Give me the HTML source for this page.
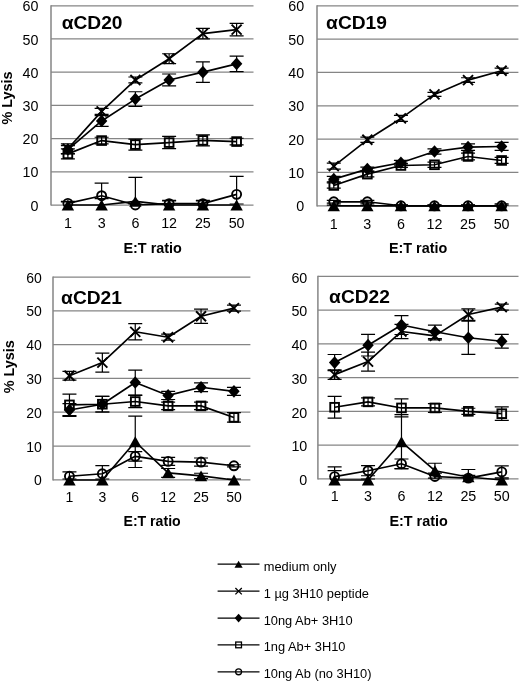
<!DOCTYPE html>
<html lang="en">
<head>
<meta charset="utf-8">
<title>Lysis vs E:T ratio</title>
<style>
html,body{margin:0;padding:0;background:#fff;}
body{width:520px;height:682px;overflow:hidden;}
svg{display:block;will-change:transform;}
</style>
</head>
<body>
<svg width="520" height="682" viewBox="0 0 520 682">
<rect width="520" height="682" fill="#fff"/>
<g>
<path d="M51 205H253.5M51 171.79H253.5M51 138.58H253.5M51 105.38H253.5M51 72.17H253.5M51 38.96H253.5M51 5.75H253.5" stroke="#858585" stroke-width="1.25" fill="none"/>
<path d="M51 5.15V205.6" stroke="#858585" stroke-width="1.5" fill="none"/>
<g font-family='"Liberation Sans", Arial, Helvetica, sans-serif' font-size="14.3" fill="#000" text-anchor="end">
<text x="38.5" y="210.6">0</text>
<text x="38.5" y="177.39">10</text>
<text x="38.5" y="144.18">20</text>
<text x="38.5" y="110.97">30</text>
<text x="38.5" y="77.77">40</text>
<text x="38.5" y="44.56">50</text>
<text x="38.5" y="11.35">60</text>
</g>
<g font-family='"Liberation Sans", Arial, Helvetica, sans-serif' font-size="14.3" fill="#000" text-anchor="middle">
<text x="67.88" y="227.9">1</text>
<text x="101.62" y="227.9">3</text>
<text x="135.38" y="227.9">6</text>
<text x="169.12" y="227.9">12</text>
<text x="202.88" y="227.9">25</text>
<text x="236.62" y="227.9">50</text>
</g>
<text x="152.65" y="252.5" font-family='"Liberation Sans", Arial, Helvetica, sans-serif' font-size="14.4" font-weight="bold" text-anchor="middle" fill="#000">E:T ratio</text>
<text transform="translate(12.1 98) rotate(-90)" font-family='"Liberation Sans", Arial, Helvetica, sans-serif' font-size="14.4" font-weight="bold" text-anchor="middle" fill="#000">% Lysis</text>
<text x="61.7" y="29.3" font-family='"Liberation Sans", Arial, Helvetica, sans-serif' font-size="19.2" font-weight="bold" fill="#000">αCD20</text>
<path d="M67.88 202.01V205M60.88 202.01H74.88M101.62 198.69V205M94.62 198.69H108.62M135.38 177.44V205M128.38 177.44H142.38M169.12 201.01V205M162.12 201.01H176.12M202.88 201.01V205M195.88 201.01H209.88M236.62 204V205M229.62 204H243.62" stroke="#000" stroke-width="1.2" fill="none"/>
<polyline points="67.88,205 101.62,205 135.38,201.35 169.12,205 202.88,205 236.62,205" fill="none" stroke="#000" stroke-width="1.65" stroke-linejoin="round"/>
<path d="M67.88 199.6L74.08 210.4L61.67 210.4Z" fill="#000"/>
<path d="M101.62 199.6L107.83 210.4L95.42 210.4Z" fill="#000"/>
<path d="M135.38 195.95L141.57 206.75L129.18 206.75Z" fill="#000"/>
<path d="M169.12 199.6L175.32 210.4L162.93 210.4Z" fill="#000"/>
<path d="M202.88 199.6L209.07 210.4L196.68 210.4Z" fill="#000"/>
<path d="M236.62 199.6L242.82 210.4L230.43 210.4Z" fill="#000"/>
<path d="M67.88 143.9V153.86M60.88 143.9H74.88M60.88 153.86H74.88M101.62 108.36V114.34M94.62 108.36H108.62M94.62 114.34H108.62M135.38 76.98V82.96M128.38 76.98H142.38M128.38 82.96H142.38M169.12 53.74V63.7M162.12 53.74H176.12M162.12 63.7H176.12M202.88 28.43V38.86M195.88 28.43H209.88M195.88 38.86H209.88M236.62 23.35V35.97M229.62 23.35H243.62M229.62 35.97H243.62" stroke="#000" stroke-width="1.2" fill="none"/>
<polyline points="67.88,148.88 101.62,111.35 135.38,79.97 169.12,58.72 202.88,33.65 236.62,29.66" fill="none" stroke="#000" stroke-width="1.65" stroke-linejoin="round"/>
<path d="M62.88 143.88L72.88 153.88M62.88 153.88L72.88 143.88" stroke="#000" stroke-width="1.9" fill="none"/>
<path d="M96.62 106.35L106.62 116.35M96.62 116.35L106.62 106.35" stroke="#000" stroke-width="1.9" fill="none"/>
<path d="M130.38 74.97L140.38 84.97M130.38 84.97L140.38 74.97" stroke="#000" stroke-width="1.9" fill="none"/>
<path d="M164.12 53.72L174.12 63.72M164.12 63.72L174.12 53.72" stroke="#000" stroke-width="1.9" fill="none"/>
<path d="M197.88 28.65L207.88 38.65M197.88 38.65L207.88 28.65" stroke="#000" stroke-width="1.9" fill="none"/>
<path d="M231.62 24.66L241.62 34.66M231.62 34.66L241.62 24.66" stroke="#000" stroke-width="1.9" fill="none"/>
<path d="M67.88 145.56V153.53M60.88 145.56H74.88M60.88 153.53H74.88M101.62 115.67V126.3M94.62 115.67H108.62M94.62 126.3H108.62M135.38 91.76V106.37M128.38 91.76H142.38M128.38 106.37H142.38M169.12 73.99V85.95M162.12 73.99H176.12M162.12 85.95H176.12M202.88 61.87V82.46M195.88 61.87H209.88M195.88 82.46H209.88M236.62 56.06V71.67M229.62 56.06H243.62M229.62 71.67H243.62" stroke="#000" stroke-width="1.2" fill="none"/>
<polyline points="67.88,149.54 101.62,120.98 135.38,99.07 169.12,79.97 202.88,72.17 236.62,63.86" fill="none" stroke="#000" stroke-width="1.65" stroke-linejoin="round"/>
<path d="M67.88 143.24L73.58 149.54L67.88 155.84L62.17 149.54Z" fill="#000"/>
<path d="M101.62 114.68L107.33 120.98L101.62 127.28L95.92 120.98Z" fill="#000"/>
<path d="M135.38 92.77L141.07 99.07L135.38 105.37L129.68 99.07Z" fill="#000"/>
<path d="M169.12 73.67L174.82 79.97L169.12 86.27L163.43 79.97Z" fill="#000"/>
<path d="M202.88 65.87L208.57 72.17L202.88 78.47L197.18 72.17Z" fill="#000"/>
<path d="M236.62 57.56L242.32 63.86L236.62 70.16L230.93 63.86Z" fill="#000"/>
<path d="M67.88 148.88V158.84M60.88 148.88H74.88M60.88 158.84H74.88M101.62 137.25V143.9M94.62 137.25H108.62M94.62 143.9H108.62M135.38 139.08V150.04M128.38 139.08H142.38M128.38 150.04H142.38M169.12 136.42V148.71M162.12 136.42H176.12M162.12 148.71H176.12M202.88 134.93V145.89M195.88 134.93H209.88M195.88 145.89H209.88M236.62 138.25V144.89M229.62 138.25H243.62M229.62 144.89H243.62" stroke="#000" stroke-width="1.2" fill="none"/>
<polyline points="67.88,153.86 101.62,140.58 135.38,144.56 169.12,142.57 202.88,140.41 236.62,141.57" fill="none" stroke="#000" stroke-width="1.65" stroke-linejoin="round"/>
<rect x="63.52" y="149.51" width="8.7" height="8.7" fill="none" stroke="#000" stroke-width="1.9"/>
<rect x="97.28" y="136.23" width="8.7" height="8.7" fill="none" stroke="#000" stroke-width="1.9"/>
<rect x="131.03" y="140.21" width="8.7" height="8.7" fill="none" stroke="#000" stroke-width="1.9"/>
<rect x="164.78" y="138.22" width="8.7" height="8.7" fill="none" stroke="#000" stroke-width="1.9"/>
<rect x="198.53" y="136.06" width="8.7" height="8.7" fill="none" stroke="#000" stroke-width="1.9"/>
<rect x="232.28" y="137.22" width="8.7" height="8.7" fill="none" stroke="#000" stroke-width="1.9"/>
<path d="M67.88 201.35V205M60.88 201.35H74.88M101.62 183.08V205M94.62 183.08H108.62M135.38 204V205M128.38 204H142.38M169.12 200.35V205M162.12 200.35H176.12M202.88 200.35V205M195.88 200.35H209.88M236.62 176.44V205M229.62 176.44H243.62" stroke="#000" stroke-width="1.2" fill="none"/>
<polyline points="67.88,203.34 101.62,195.7 135.38,205 169.12,203.67 202.88,203.67 236.62,194.37" fill="none" stroke="#000" stroke-width="1.65" stroke-linejoin="round"/>
<circle cx="67.88" cy="203.34" r="4.5" fill="none" stroke="#000" stroke-width="1.9"/>
<circle cx="101.62" cy="195.7" r="4.5" fill="none" stroke="#000" stroke-width="1.9"/>
<circle cx="135.38" cy="205" r="4.5" fill="none" stroke="#000" stroke-width="1.9"/>
<circle cx="169.12" cy="203.67" r="4.5" fill="none" stroke="#000" stroke-width="1.9"/>
<circle cx="202.88" cy="203.67" r="4.5" fill="none" stroke="#000" stroke-width="1.9"/>
<circle cx="236.62" cy="194.37" r="4.5" fill="none" stroke="#000" stroke-width="1.9"/>
</g>
<g>
<path d="M317 205.8H518.4M317 172.46H518.4M317 139.12H518.4M317 105.78H518.4M317 72.43H518.4M317 39.09H518.4M317 5.75H518.4" stroke="#858585" stroke-width="1.25" fill="none"/>
<path d="M317 5.15V206.4" stroke="#858585" stroke-width="1.5" fill="none"/>
<g font-family='"Liberation Sans", Arial, Helvetica, sans-serif' font-size="14.3" fill="#000" text-anchor="end">
<text x="304.2" y="211.4">0</text>
<text x="304.2" y="178.06">10</text>
<text x="304.2" y="144.72">20</text>
<text x="304.2" y="111.38">30</text>
<text x="304.2" y="78.03">40</text>
<text x="304.2" y="44.69">50</text>
<text x="304.2" y="11.35">60</text>
</g>
<g font-family='"Liberation Sans", Arial, Helvetica, sans-serif' font-size="14.3" fill="#000" text-anchor="middle">
<text x="333.78" y="228.7">1</text>
<text x="367.35" y="228.7">3</text>
<text x="400.92" y="228.7">6</text>
<text x="434.48" y="228.7">12</text>
<text x="468.05" y="228.7">25</text>
<text x="501.62" y="228.7">50</text>
</g>
<text x="418.1" y="252.5" font-family='"Liberation Sans", Arial, Helvetica, sans-serif' font-size="14.4" font-weight="bold" text-anchor="middle" fill="#000">E:T ratio</text>
<text x="326.1" y="29.3" font-family='"Liberation Sans", Arial, Helvetica, sans-serif' font-size="19.2" font-weight="bold" fill="#000">αCD19</text>
<path d="M333.78 205.13V205.8M326.78 205.13H340.78M367.35 205.13V205.8M360.35 205.13H374.35M400.92 205.13V205.8M393.92 205.13H407.92M434.48 205.13V205.8M427.48 205.13H441.48M468.05 205.13V205.8M461.05 205.13H475.05M501.62 205.13V205.8M494.62 205.13H508.62" stroke="#000" stroke-width="1.2" fill="none"/>
<polyline points="333.78,205.8 367.35,205.8 400.92,205.8 434.48,205.8 468.05,205.8 501.62,205.8" fill="none" stroke="#000" stroke-width="1.65" stroke-linejoin="round"/>
<path d="M333.78 200.4L339.98 211.2L327.58 211.2Z" fill="#000"/>
<path d="M367.35 200.4L373.55 211.2L361.15 211.2Z" fill="#000"/>
<path d="M400.92 200.4L407.12 211.2L394.72 211.2Z" fill="#000"/>
<path d="M434.48 200.4L440.68 211.2L428.28 211.2Z" fill="#000"/>
<path d="M468.05 200.4L474.25 211.2L461.85 211.2Z" fill="#000"/>
<path d="M501.62 200.4L507.82 211.2L495.42 211.2Z" fill="#000"/>
<path d="M333.78 163.12V169.12M326.78 163.12H340.78M326.78 169.12H340.78M367.35 137.12V142.45M360.35 137.12H374.35M360.35 142.45H374.35M400.92 115.44V121.45M393.92 115.44H407.92M393.92 121.45H407.92M434.48 92.44V96.44M427.48 92.44H441.48M427.48 96.44H441.48M468.05 77.77V82.44M461.05 77.77H475.05M461.05 82.44H475.05M501.62 68.1V73.43M494.62 68.1H508.62M494.62 73.43H508.62" stroke="#000" stroke-width="1.2" fill="none"/>
<polyline points="333.78,166.12 367.35,139.78 400.92,118.44 434.48,94.44 468.05,80.1 501.62,70.77" fill="none" stroke="#000" stroke-width="1.65" stroke-linejoin="round"/>
<path d="M328.78 161.12L338.78 171.12M328.78 171.12L338.78 161.12" stroke="#000" stroke-width="1.9" fill="none"/>
<path d="M362.35 134.78L372.35 144.78M362.35 144.78L372.35 134.78" stroke="#000" stroke-width="1.9" fill="none"/>
<path d="M395.92 113.44L405.92 123.44M395.92 123.44L405.92 113.44" stroke="#000" stroke-width="1.9" fill="none"/>
<path d="M429.48 89.44L439.48 99.44M429.48 99.44L439.48 89.44" stroke="#000" stroke-width="1.9" fill="none"/>
<path d="M463.05 75.1L473.05 85.1M463.05 85.1L473.05 75.1" stroke="#000" stroke-width="1.9" fill="none"/>
<path d="M496.62 65.77L506.62 75.77M496.62 75.77L506.62 65.77" stroke="#000" stroke-width="1.9" fill="none"/>
<path d="M333.78 176.46V181.79M326.78 176.46H340.78M326.78 181.79H340.78M367.35 167.12V171.12M360.35 167.12H374.35M360.35 171.12H374.35M400.92 160.46V165.12M393.92 160.46H407.92M393.92 165.12H407.92M434.48 148.79V154.12M427.48 148.79H441.48M427.48 154.12H441.48M468.05 143.78V150.45M461.05 143.78H475.05M461.05 150.45H475.05M501.62 142.45V150.45M494.62 142.45H508.62M494.62 150.45H508.62" stroke="#000" stroke-width="1.2" fill="none"/>
<polyline points="333.78,179.13 367.35,169.12 400.92,162.79 434.48,151.45 468.05,147.12 501.62,146.45" fill="none" stroke="#000" stroke-width="1.65" stroke-linejoin="round"/>
<path d="M333.78 172.83L339.48 179.13L333.78 185.43L328.08 179.13Z" fill="#000"/>
<path d="M367.35 162.82L373.05 169.12L367.35 175.42L361.65 169.12Z" fill="#000"/>
<path d="M400.92 156.49L406.62 162.79L400.92 169.09L395.22 162.79Z" fill="#000"/>
<path d="M434.48 145.15L440.18 151.45L434.48 157.75L428.78 151.45Z" fill="#000"/>
<path d="M468.05 140.82L473.75 147.12L468.05 153.42L462.35 147.12Z" fill="#000"/>
<path d="M501.62 140.15L507.32 146.45L501.62 152.75L495.92 146.45Z" fill="#000"/>
<path d="M333.78 182.79V188.13M326.78 182.79H340.78M326.78 188.13H340.78M367.35 171.46V176.79M360.35 171.46H374.35M360.35 176.79H374.35M400.92 163.46V167.46M393.92 163.46H407.92M393.92 167.46H407.92M434.48 162.12V167.46M427.48 162.12H441.48M427.48 167.46H441.48M468.05 153.12V159.79M461.05 153.12H475.05M461.05 159.79H475.05M501.62 157.45V163.46M494.62 157.45H508.62M494.62 163.46H508.62" stroke="#000" stroke-width="1.2" fill="none"/>
<polyline points="333.78,185.46 367.35,174.13 400.92,165.46 434.48,164.79 468.05,156.45 501.62,160.46" fill="none" stroke="#000" stroke-width="1.65" stroke-linejoin="round"/>
<rect x="329.43" y="181.11" width="8.7" height="8.7" fill="none" stroke="#000" stroke-width="1.9"/>
<rect x="363" y="169.78" width="8.7" height="8.7" fill="none" stroke="#000" stroke-width="1.9"/>
<rect x="396.57" y="161.11" width="8.7" height="8.7" fill="none" stroke="#000" stroke-width="1.9"/>
<rect x="430.13" y="160.44" width="8.7" height="8.7" fill="none" stroke="#000" stroke-width="1.9"/>
<rect x="463.7" y="152.1" width="8.7" height="8.7" fill="none" stroke="#000" stroke-width="1.9"/>
<rect x="497.27" y="156.11" width="8.7" height="8.7" fill="none" stroke="#000" stroke-width="1.9"/>
<path d="M333.78 200.47V203.13M326.78 200.47H340.78M326.78 203.13H340.78M367.35 200.47V203.13M360.35 200.47H374.35M360.35 203.13H374.35M400.92 204.8V205.8M393.92 204.8H407.92M434.48 204.8V205.8M427.48 204.8H441.48M468.05 204.8V205.8M461.05 204.8H475.05M501.62 203.8V205.8M494.62 203.8H508.62" stroke="#000" stroke-width="1.2" fill="none"/>
<polyline points="333.78,201.8 367.35,201.8 400.92,205.8 434.48,205.8 468.05,205.8 501.62,205.8" fill="none" stroke="#000" stroke-width="1.65" stroke-linejoin="round"/>
<circle cx="333.78" cy="201.8" r="4.5" fill="none" stroke="#000" stroke-width="1.9"/>
<circle cx="367.35" cy="201.8" r="4.5" fill="none" stroke="#000" stroke-width="1.9"/>
<circle cx="400.92" cy="205.8" r="4.5" fill="none" stroke="#000" stroke-width="1.9"/>
<circle cx="434.48" cy="205.8" r="4.5" fill="none" stroke="#000" stroke-width="1.9"/>
<circle cx="468.05" cy="205.8" r="4.5" fill="none" stroke="#000" stroke-width="1.9"/>
<circle cx="501.62" cy="205.8" r="4.5" fill="none" stroke="#000" stroke-width="1.9"/>
</g>
<g>
<path d="M53 479.8H250.4M53 446H250.4M53 412.2H250.4M53 378.4H250.4M53 344.6H250.4M53 310.8H250.4M53 277H250.4" stroke="#858585" stroke-width="1.25" fill="none"/>
<path d="M53 276.4V480.4" stroke="#858585" stroke-width="1.5" fill="none"/>
<g font-family='"Liberation Sans", Arial, Helvetica, sans-serif' font-size="14.01" fill="#000" text-anchor="end">
<text x="41.8" y="485.4">0</text>
<text x="41.8" y="451.6">10</text>
<text x="41.8" y="417.8">20</text>
<text x="41.8" y="384">30</text>
<text x="41.8" y="350.2">40</text>
<text x="41.8" y="316.4">50</text>
<text x="41.8" y="282.6">60</text>
</g>
<g font-family='"Liberation Sans", Arial, Helvetica, sans-serif' font-size="14.01" fill="#000" text-anchor="middle">
<text x="69.45" y="502">1</text>
<text x="102.35" y="502">3</text>
<text x="135.25" y="502">6</text>
<text x="168.15" y="502">12</text>
<text x="201.05" y="502">25</text>
<text x="233.95" y="502">50</text>
</g>
<text x="152.1" y="525.7" font-family='"Liberation Sans", Arial, Helvetica, sans-serif' font-size="14.11" font-weight="bold" text-anchor="middle" fill="#000">E:T ratio</text>
<text transform="translate(13.6 366.8) rotate(-90)" font-family='"Liberation Sans", Arial, Helvetica, sans-serif' font-size="14.4" font-weight="bold" text-anchor="middle" fill="#000">% Lysis</text>
<text x="61.1" y="304.3" font-family='"Liberation Sans", Arial, Helvetica, sans-serif' font-size="19.2" font-weight="bold" fill="#000">αCD21</text>
<path d="M69.45 478.99V479.8M62.45 478.99H76.45M102.35 478.99V479.8M95.35 478.99H109.35M135.25 416.06V467.48M128.25 416.06H142.25M128.25 467.48H142.25M168.15 468.5V477.29M161.15 468.5H175.15M161.15 477.29H175.15M201.05 473.23V478.65M194.05 473.23H208.05M194.05 478.65H208.05M233.95 478.99V479.8M226.95 478.99H240.95" stroke="#000" stroke-width="1.2" fill="none"/>
<polyline points="69.45,480 102.35,480 135.25,441.77 168.15,472.89 201.05,475.94 233.95,480" fill="none" stroke="#000" stroke-width="1.65" stroke-linejoin="round"/>
<path d="M69.45 474.6L75.65 485.4L63.25 485.4Z" fill="#000"/>
<path d="M102.35 474.6L108.55 485.4L96.15 485.4Z" fill="#000"/>
<path d="M135.25 436.37L141.45 447.17L129.05 447.17Z" fill="#000"/>
<path d="M168.15 467.5L174.35 478.29L161.95 478.29Z" fill="#000"/>
<path d="M201.05 470.54L207.25 481.34L194.85 481.34Z" fill="#000"/>
<path d="M233.95 474.6L240.15 485.4L227.75 485.4Z" fill="#000"/>
<path d="M69.45 371.39V380.19M62.45 371.39H76.45M62.45 380.19H76.45M102.35 353.12V372.07M95.35 353.12H109.35M95.35 372.07H109.35M135.25 323.69V339.93M128.25 323.69H142.25M128.25 339.93H142.25M168.15 334.18V340.27M161.15 334.18H175.15M161.15 340.27H175.15M201.05 309.14V323.35M194.05 309.14H208.05M194.05 323.35H208.05M233.95 305.08V311.17M226.95 305.08H240.95M226.95 311.17H240.95" stroke="#000" stroke-width="1.2" fill="none"/>
<polyline points="69.45,375.79 102.35,362.6 135.25,331.81 168.15,337.22 201.05,316.25 233.95,308.13" fill="none" stroke="#000" stroke-width="1.65" stroke-linejoin="round"/>
<path d="M64.45 370.79L74.45 380.79M64.45 380.79L74.45 370.79" stroke="#000" stroke-width="1.9" fill="none"/>
<path d="M97.35 357.6L107.35 367.6M97.35 367.6L107.35 357.6" stroke="#000" stroke-width="1.9" fill="none"/>
<path d="M130.25 326.81L140.25 336.81M130.25 336.81L140.25 326.81" stroke="#000" stroke-width="1.9" fill="none"/>
<path d="M163.15 332.22L173.15 342.22M163.15 342.22L173.15 332.22" stroke="#000" stroke-width="1.9" fill="none"/>
<path d="M196.05 311.25L206.05 321.25M196.05 321.25L206.05 311.25" stroke="#000" stroke-width="1.9" fill="none"/>
<path d="M228.95 303.13L238.95 313.13M228.95 313.13L238.95 303.13" stroke="#000" stroke-width="1.9" fill="none"/>
<path d="M69.45 403.54V416.39M62.45 403.54H76.45M62.45 416.39H76.45M102.35 396.43V412M95.35 396.43H109.35M95.35 412H109.35M135.25 370.04V395.08M128.25 370.04H142.25M128.25 395.08H142.25M168.15 391.36V399.48M161.15 391.36H175.15M161.15 399.48H175.15M201.05 382.9V391.69M194.05 382.9H208.05M194.05 391.69H208.05M233.95 387.3V395.42M226.95 387.3H240.95M226.95 395.42H240.95" stroke="#000" stroke-width="1.2" fill="none"/>
<polyline points="69.45,409.97 102.35,404.21 135.25,382.56 168.15,395.42 201.05,387.3 233.95,391.36" fill="none" stroke="#000" stroke-width="1.65" stroke-linejoin="round"/>
<path d="M69.45 403.67L75.15 409.97L69.45 416.27L63.75 409.97Z" fill="#000"/>
<path d="M102.35 397.91L108.05 404.21L102.35 410.51L96.65 404.21Z" fill="#000"/>
<path d="M135.25 376.26L140.95 382.56L135.25 388.86L129.55 382.56Z" fill="#000"/>
<path d="M168.15 389.12L173.85 395.42L168.15 401.72L162.45 395.42Z" fill="#000"/>
<path d="M201.05 381L206.75 387.3L201.05 393.6L195.35 387.3Z" fill="#000"/>
<path d="M233.95 385.06L239.65 391.36L233.95 397.66L228.25 391.36Z" fill="#000"/>
<path d="M69.45 394.06V415.72M62.45 394.06H76.45M62.45 415.72H76.45M102.35 396.43V412M95.35 396.43H109.35M95.35 412H109.35M135.25 395.42V407.6M128.25 395.42H142.25M128.25 407.6H142.25M168.15 402.18V409.63M161.15 402.18H175.15M161.15 409.63H175.15M201.05 402.18V409.63M194.05 402.18H208.05M194.05 409.63H208.05M233.95 412.67V422.14M226.95 412.67H240.95M226.95 422.14H240.95" stroke="#000" stroke-width="1.2" fill="none"/>
<polyline points="69.45,404.89 102.35,404.21 135.25,401.51 168.15,405.9 201.05,405.9 233.95,417.41" fill="none" stroke="#000" stroke-width="1.65" stroke-linejoin="round"/>
<rect x="65.1" y="400.54" width="8.7" height="8.7" fill="none" stroke="#000" stroke-width="1.9"/>
<rect x="98" y="399.86" width="8.7" height="8.7" fill="none" stroke="#000" stroke-width="1.9"/>
<rect x="130.9" y="397.16" width="8.7" height="8.7" fill="none" stroke="#000" stroke-width="1.9"/>
<rect x="163.8" y="401.55" width="8.7" height="8.7" fill="none" stroke="#000" stroke-width="1.9"/>
<rect x="196.7" y="401.55" width="8.7" height="8.7" fill="none" stroke="#000" stroke-width="1.9"/>
<rect x="229.6" y="413.06" width="8.7" height="8.7" fill="none" stroke="#000" stroke-width="1.9"/>
<path d="M69.45 471.88V479.8M62.45 471.88H76.45M102.35 465.62V479.8M95.35 465.62H109.35M135.25 451.58V461.05M128.25 451.58H142.25M128.25 461.05H142.25M168.15 457.33V465.45M161.15 457.33H175.15M161.15 465.45H175.15M201.05 458.01V466.13M194.05 458.01H208.05M194.05 466.13H208.05M233.95 464.77V466.81M226.95 464.77H240.95M226.95 466.81H240.95" stroke="#000" stroke-width="1.2" fill="none"/>
<polyline points="69.45,476.28 102.35,473.74 135.25,456.32 168.15,461.39 201.05,462.07 233.95,465.79" fill="none" stroke="#000" stroke-width="1.65" stroke-linejoin="round"/>
<circle cx="69.45" cy="476.28" r="4.5" fill="none" stroke="#000" stroke-width="1.9"/>
<circle cx="102.35" cy="473.74" r="4.5" fill="none" stroke="#000" stroke-width="1.9"/>
<circle cx="135.25" cy="456.32" r="4.5" fill="none" stroke="#000" stroke-width="1.9"/>
<circle cx="168.15" cy="461.39" r="4.5" fill="none" stroke="#000" stroke-width="1.9"/>
<circle cx="201.05" cy="462.07" r="4.5" fill="none" stroke="#000" stroke-width="1.9"/>
<circle cx="233.95" cy="465.79" r="4.5" fill="none" stroke="#000" stroke-width="1.9"/>
</g>
<g>
<path d="M317.9 478.9H518.5M317.9 445.15H518.5M317.9 411.4H518.5M317.9 377.65H518.5M317.9 343.9H518.5M317.9 310.15H518.5M317.9 276.4H518.5" stroke="#858585" stroke-width="1.25" fill="none"/>
<path d="M317.9 275.8V479.5" stroke="#858585" stroke-width="1.5" fill="none"/>
<g font-family='"Liberation Sans", Arial, Helvetica, sans-serif' font-size="14.3" fill="#000" text-anchor="end">
<text x="307.3" y="485">0</text>
<text x="307.3" y="451.25">10</text>
<text x="307.3" y="417.5">20</text>
<text x="307.3" y="383.75">30</text>
<text x="307.3" y="350">40</text>
<text x="307.3" y="316.25">50</text>
<text x="307.3" y="282.5">60</text>
</g>
<g font-family='"Liberation Sans", Arial, Helvetica, sans-serif' font-size="14.3" fill="#000" text-anchor="middle">
<text x="334.62" y="501.4">1</text>
<text x="368.05" y="501.4">3</text>
<text x="401.48" y="501.4">6</text>
<text x="434.92" y="501.4">12</text>
<text x="468.35" y="501.4">25</text>
<text x="501.78" y="501.4">50</text>
</g>
<text x="418.6" y="525.7" font-family='"Liberation Sans", Arial, Helvetica, sans-serif' font-size="14.4" font-weight="bold" text-anchor="middle" fill="#000">E:T ratio</text>
<text x="329.1" y="303" font-family='"Liberation Sans", Arial, Helvetica, sans-serif' font-size="19.2" font-weight="bold" fill="#000">αCD22</text>
<path d="M334.62 470.7V478.9M327.62 470.7H341.62M368.05 478.99V478.9M361.05 478.99H375.05M401.48 414.7V468.83M394.48 414.7H408.48M394.48 468.83H408.48M434.92 463.25V478.14M427.92 463.25H441.92M427.92 478.14H441.92M468.35 469.51V478.9M461.35 469.51H475.35M501.78 478.99V478.9M494.78 478.99H508.78" stroke="#000" stroke-width="1.2" fill="none"/>
<polyline points="334.62,480 368.05,480 401.48,441.77 434.92,470.7 468.35,476.95 501.78,480" fill="none" stroke="#000" stroke-width="1.65" stroke-linejoin="round"/>
<path d="M334.62 474.6L340.82 485.4L328.42 485.4Z" fill="#000"/>
<path d="M368.05 474.6L374.25 485.4L361.85 485.4Z" fill="#000"/>
<path d="M401.48 436.37L407.68 447.17L395.28 447.17Z" fill="#000"/>
<path d="M434.92 465.3L441.12 476.1L428.72 476.1Z" fill="#000"/>
<path d="M468.35 471.56L474.55 482.35L462.15 482.35Z" fill="#000"/>
<path d="M501.78 474.6L507.98 485.4L495.58 485.4Z" fill="#000"/>
<path d="M334.62 369.87V379.35M327.62 369.87H341.62M327.62 379.35H341.62M368.05 352.11V371.06M361.05 352.11H375.05M361.05 371.06H375.05M401.48 324.37V338.58M394.48 324.37H408.48M394.48 338.58H408.48M434.92 331.81V339.93M427.92 331.81H441.92M427.92 339.93H441.92M468.35 308.8V320.31M461.35 308.8H475.35M461.35 320.31H475.35M501.78 304.07V310.16M494.78 304.07H508.78M494.78 310.16H508.78" stroke="#000" stroke-width="1.2" fill="none"/>
<polyline points="334.62,374.61 368.05,361.58 401.48,331.47 434.92,335.87 468.35,314.56 501.78,307.11" fill="none" stroke="#000" stroke-width="1.65" stroke-linejoin="round"/>
<path d="M329.62 369.61L339.62 379.61M329.62 379.61L339.62 369.61" stroke="#000" stroke-width="1.9" fill="none"/>
<path d="M363.05 356.58L373.05 366.58M363.05 366.58L373.05 356.58" stroke="#000" stroke-width="1.9" fill="none"/>
<path d="M396.48 326.47L406.48 336.47M396.48 336.47L406.48 326.47" stroke="#000" stroke-width="1.9" fill="none"/>
<path d="M429.92 330.87L439.92 340.87M429.92 340.87L439.92 330.87" stroke="#000" stroke-width="1.9" fill="none"/>
<path d="M463.35 309.56L473.35 319.56M463.35 319.56L473.35 309.56" stroke="#000" stroke-width="1.9" fill="none"/>
<path d="M496.78 302.11L506.78 312.11M496.78 312.11L506.78 302.11" stroke="#000" stroke-width="1.9" fill="none"/>
<path d="M334.62 354.48V370.72M327.62 354.48H341.62M327.62 370.72H341.62M368.05 334.35V356M361.05 334.35H375.05M361.05 356H375.05M401.48 315.57V334.52M394.48 315.57H408.48M394.48 334.52H408.48M434.92 325.04V338.58M427.92 325.04H441.92M427.92 338.58H441.92M468.35 321.15V354.31M461.35 321.15H475.35M461.35 354.31H475.35M501.78 334.35V348.22M494.78 334.35H508.78M494.78 348.22H508.78" stroke="#000" stroke-width="1.2" fill="none"/>
<polyline points="334.62,362.6 368.05,345.17 401.48,325.04 434.92,331.81 468.35,337.73 501.78,341.28" fill="none" stroke="#000" stroke-width="1.65" stroke-linejoin="round"/>
<path d="M334.62 356.3L340.32 362.6L334.62 368.9L328.92 362.6Z" fill="#000"/>
<path d="M368.05 338.87L373.75 345.17L368.05 351.47L362.35 345.17Z" fill="#000"/>
<path d="M401.48 318.74L407.18 325.04L401.48 331.34L395.78 325.04Z" fill="#000"/>
<path d="M434.92 325.51L440.62 331.81L434.92 338.11L429.22 331.81Z" fill="#000"/>
<path d="M468.35 331.43L474.05 337.73L468.35 344.03L462.65 337.73Z" fill="#000"/>
<path d="M501.78 334.98L507.48 341.28L501.78 347.58L496.08 341.28Z" fill="#000"/>
<path d="M334.62 396.43V418.08M327.62 396.43H341.62M327.62 418.08H341.62M368.05 397.78V405.9M361.05 397.78H375.05M361.05 405.9H375.05M401.48 398.97V416.9M394.48 398.97H408.48M394.48 416.9H408.48M434.92 403.54V412.33M427.92 403.54H441.92M427.92 412.33H441.92M468.35 408.27V414.36M461.35 408.27H475.35M461.35 414.36H475.35M501.78 406.92V420.45M494.78 406.92H508.78M494.78 420.45H508.78" stroke="#000" stroke-width="1.2" fill="none"/>
<polyline points="334.62,407.26 368.05,401.85 401.48,407.94 434.92,407.94 468.35,411.32 501.78,413.69" fill="none" stroke="#000" stroke-width="1.65" stroke-linejoin="round"/>
<rect x="330.27" y="402.91" width="8.7" height="8.7" fill="none" stroke="#000" stroke-width="1.9"/>
<rect x="363.7" y="397.5" width="8.7" height="8.7" fill="none" stroke="#000" stroke-width="1.9"/>
<rect x="397.13" y="403.58" width="8.7" height="8.7" fill="none" stroke="#000" stroke-width="1.9"/>
<rect x="430.57" y="403.58" width="8.7" height="8.7" fill="none" stroke="#000" stroke-width="1.9"/>
<rect x="464" y="406.97" width="8.7" height="8.7" fill="none" stroke="#000" stroke-width="1.9"/>
<rect x="497.43" y="409.34" width="8.7" height="8.7" fill="none" stroke="#000" stroke-width="1.9"/>
<path d="M334.62 466.81V478.9M327.62 466.81H341.62M368.05 465.62V475.77M361.05 465.62H375.05M361.05 475.77H375.05M401.48 459.02V468.5M394.48 459.02H408.48M394.48 468.5H408.48M434.92 473.06V478.9M427.92 473.06H441.92M468.35 475.43V478.9M461.35 475.43H475.35M501.78 465.79V477.97M494.78 465.79H508.78M494.78 477.97H508.78" stroke="#000" stroke-width="1.2" fill="none"/>
<polyline points="334.62,476.62 368.05,470.7 401.48,463.76 434.92,476.45 468.35,478.14 501.78,471.88" fill="none" stroke="#000" stroke-width="1.65" stroke-linejoin="round"/>
<circle cx="334.62" cy="476.62" r="4.5" fill="none" stroke="#000" stroke-width="1.9"/>
<circle cx="368.05" cy="470.7" r="4.5" fill="none" stroke="#000" stroke-width="1.9"/>
<circle cx="401.48" cy="463.76" r="4.5" fill="none" stroke="#000" stroke-width="1.9"/>
<circle cx="434.92" cy="476.45" r="4.5" fill="none" stroke="#000" stroke-width="1.9"/>
<circle cx="468.35" cy="478.14" r="4.5" fill="none" stroke="#000" stroke-width="1.9"/>
<circle cx="501.78" cy="471.88" r="4.5" fill="none" stroke="#000" stroke-width="1.9"/>
</g>
<g font-family='"Liberation Sans", Arial, Helvetica, sans-serif' font-size="12.85" fill="#000">
<path d="M217.6 564.2H259.5" stroke="#000" stroke-width="1.3"/>
<path d="M238.6 560.64L242.69 567.76L234.51 567.76Z" fill="#000"/>
<text x="263.7" y="570.6">medium only</text>
<path d="M217.6 591.2H259.5" stroke="#000" stroke-width="1.3"/>
<path d="M235.4 588L241.8 594.4M235.4 594.4L241.8 588" stroke="#000" stroke-width="1.3" fill="none"/>
<text x="263.7" y="597.6">1 µg 3H10 peptide</text>
<path d="M217.6 618.1H259.5" stroke="#000" stroke-width="1.3"/>
<path d="M238.6 613.82L242.48 618.1L238.6 622.38L234.72 618.1Z" fill="#000"/>
<text x="263.7" y="624.5">10ng Ab+ 3H10</text>
<path d="M217.6 644.9H259.5" stroke="#000" stroke-width="1.3"/>
<rect x="235.73" y="642.03" width="5.74" height="5.74" fill="none" stroke="#000" stroke-width="1.3"/>
<text x="263.7" y="651.3">1ng Ab+ 3H10</text>
<path d="M217.6 671.8H259.5" stroke="#000" stroke-width="1.3"/>
<circle cx="238.6" cy="671.8" r="2.97" fill="none" stroke="#000" stroke-width="1.3"/>
<text x="263.7" y="678.2">10ng Ab (no 3H10)</text>
</g>
</svg>
</body>
</html>
